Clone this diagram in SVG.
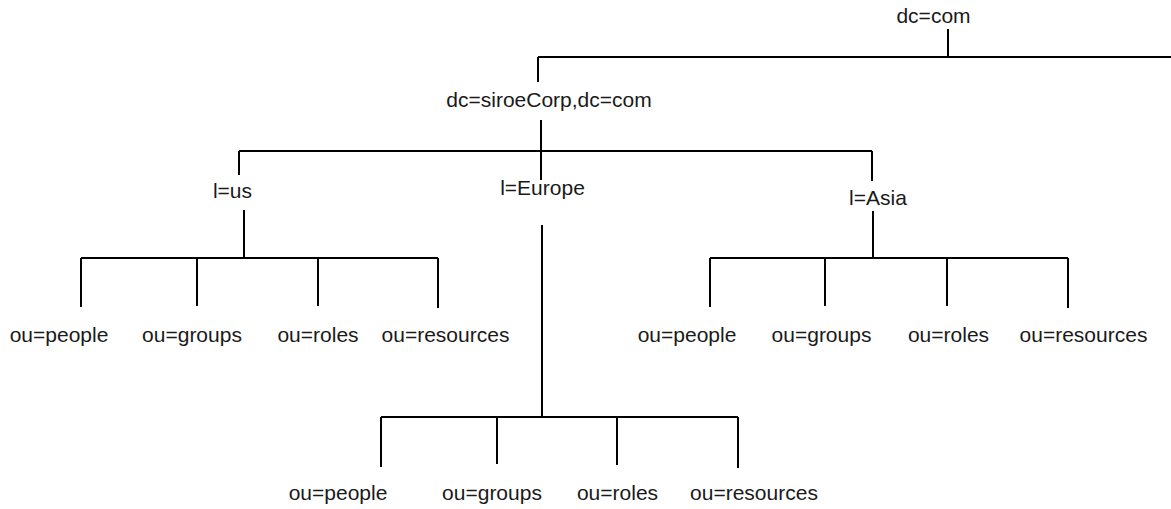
<svg xmlns="http://www.w3.org/2000/svg" width="1171" height="509" viewBox="0 0 1171 509">
<style>
.t{font-family:"Liberation Sans",Arial,sans-serif;font-size:21px;fill:#1a1a1a;text-anchor:middle}
.c{stroke:#000;stroke-width:2;fill:none}
</style>
<rect width="1171" height="509" fill="#fff"/>
<g id="connectors" class="c">
<path d="M948 29V57M538 57H1171M538 57V82"/>
<path d="M541 120V180M239 151H872M239 151V175M872 151V181"/>
<path d="M244 210V258M81 258H438M81 258V307M197 258V306M318 258V306M438 258V308"/>
<path d="M873 211V258M710 258H1068M710 258V307M825 258V306M947 258V306M1068 258V308"/>
<path d="M542 225V417M381 417H738M381 417V467M497 417V464M617 417V465M738 417V468"/>
</g>
<g id="dc-com"><text class="t" x="933.5" y="23">dc=com</text></g>
<g id="siroeCorp"><text class="t" x="549" y="107">dc=siroeCorp,dc=com</text></g>
<g id="l-us"><text class="t" x="232.5" y="198">l=us</text></g>
<g id="l-europe"><text class="t" x="542.5" y="195">l=Europe</text></g>
<g id="l-asia"><text class="t" x="878" y="205">l=Asia</text></g>
<g id="us-people"><text class="t" x="59" y="342">ou=people</text></g>
<g id="us-groups"><text class="t" x="192" y="342">ou=groups</text></g>
<g id="us-roles"><text class="t" x="318" y="342">ou=roles</text></g>
<g id="us-resources"><text class="t" x="445.5" y="342">ou=resources</text></g>
<g id="asia-people"><text class="t" x="687" y="342">ou=people</text></g>
<g id="asia-groups"><text class="t" x="821.5" y="342">ou=groups</text></g>
<g id="asia-roles"><text class="t" x="948.5" y="342">ou=roles</text></g>
<g id="asia-resources"><text class="t" x="1083.5" y="342">ou=resources</text></g>
<g id="eu-people"><text class="t" x="338" y="500">ou=people</text></g>
<g id="eu-groups"><text class="t" x="492" y="500">ou=groups</text></g>
<g id="eu-roles"><text class="t" x="617.5" y="500">ou=roles</text></g>
<g id="eu-resources"><text class="t" x="754" y="500">ou=resources</text></g>
</svg>
